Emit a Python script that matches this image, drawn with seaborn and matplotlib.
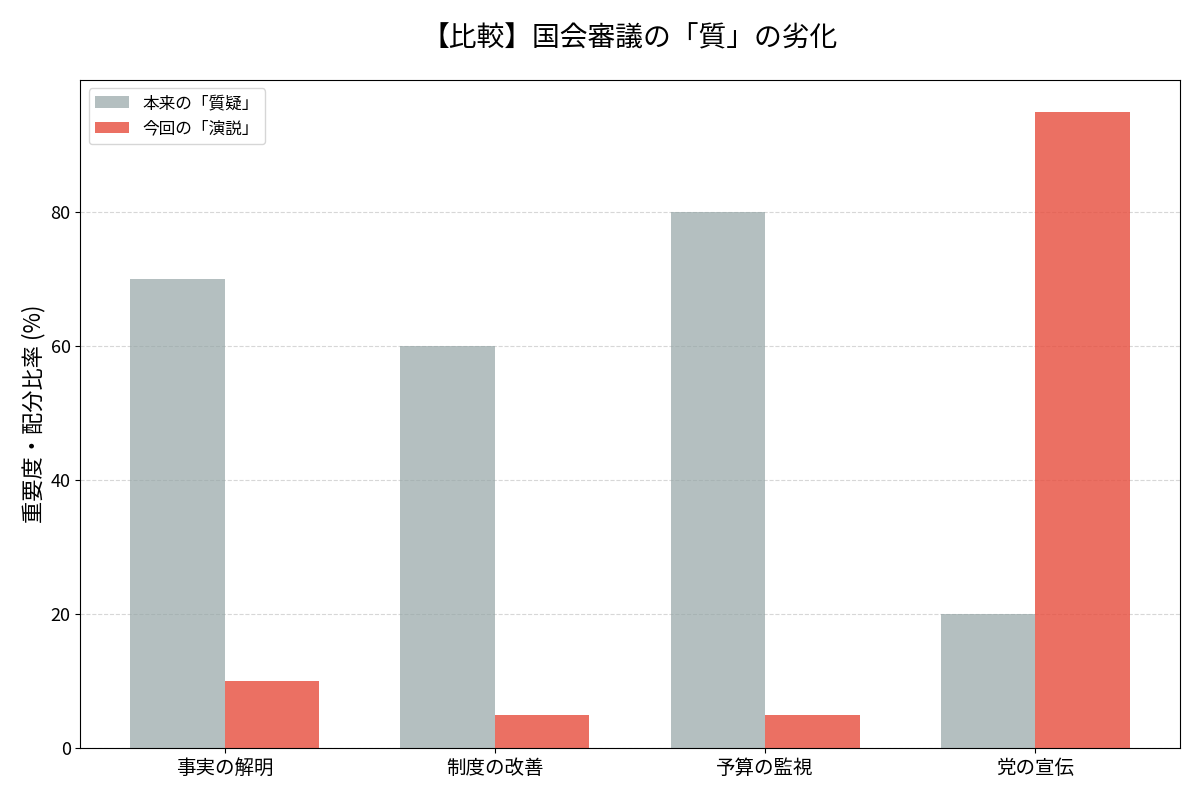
import matplotlib
matplotlib.use("Agg")
import matplotlib.pyplot as plt
import seaborn as sns
import pandas as pd

plt.rcParams['font.family'] = ['Noto Sans CJK JP', 'DejaVu Sans']

categories = ['事実の解明', '制度の改善', '予算の監視', '党の宣伝']
series_names = ['本来の「質疑」', '今回の「演説」']
ideal_values = [70, 60, 80, 20]
actual_values = [10, 5, 5, 95]

df = pd.DataFrame({
    'category': categories * 2,
    'series': [series_names[0]] * len(categories) + [series_names[1]] * len(categories),
    'value': ideal_values + actual_values,
})

palette = {series_names[0]: (149/255, 165/255, 166/255, 0.7),
           series_names[1]: (231/255, 76/255, 60/255, 0.8)}

fig, ax = plt.subplots(figsize=(12, 8), dpi=100)
sns.barplot(data=df, x='category', y='value', hue='series', order=categories,
            hue_order=series_names, palette=palette, width=0.7, saturation=1,
            errorbar=None, ax=ax)

n = len(categories)
ax.set_xlim(-0.535, n - 1 + 0.535)
ax.set_ylim(0, max(ideal_values + actual_values) * 1.05)
ax.set_title('【比較】国会審議の「質」の劣化', fontsize=20, pad=24)
ax.set_xlabel('')
ax.set_ylabel('重要度・配分比率 (%)', fontsize=16)
ax.tick_params(axis='x', labelsize=14)
ax.tick_params(axis='y', labelsize=13)
ax.yaxis.grid(True, linestyle='--', alpha=0.5)
ax.set_axisbelow(True)
ax.legend(title=None, fontsize=12, loc='upper left')

fig.subplots_adjust(left=0.067, right=0.983, top=0.9, bottom=0.065)
plt.savefig('out.png')
